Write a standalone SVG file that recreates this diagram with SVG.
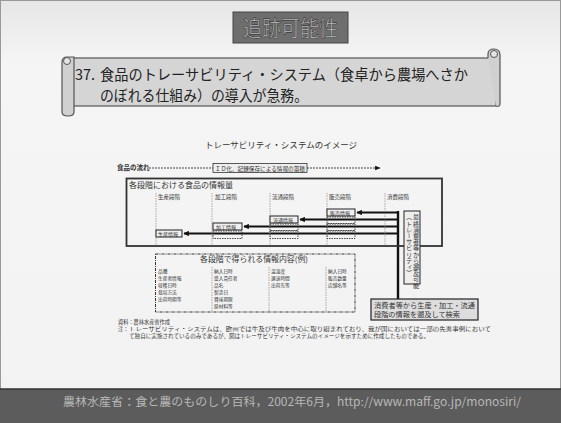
<svg xmlns="http://www.w3.org/2000/svg" width="561" height="423" viewBox="0 0 561 423">
<style>
.jp{font-family:"Noto Sans CJK JP","Noto Sans",sans-serif}
.lbl{font-family:"Noto Sans CJK JP",sans-serif;fill:#333}
.s5{font-size:5.5px}
.s4{font-size:4.7px}
.solid{fill:#f0f0f0;stroke:#222;stroke-width:1}
.dash{fill:none;stroke:#333;stroke-width:0.9;stroke-dasharray:1.5 1}
.vl{stroke:#888;stroke-width:0.7;stroke-dasharray:1.5 1}
.arr{stroke:#111;stroke-width:1.8;fill:none;marker-end:url(#ah)}
</style>
<defs>
<marker id="ah" viewBox="0 0 10 10" refX="9" refY="5" markerWidth="3" markerHeight="3" orient="auto"><path d="M0,0L10,5L0,10z" fill="#111"/></marker>
<marker id="ah2" viewBox="0 0 10 10" refX="9" refY="5" markerWidth="6" markerHeight="6" orient="auto"><path d="M0,1L10,5L0,9z" fill="#111"/></marker>
<linearGradient id="bg" x1="0" y1="0" x2="0" y2="1"><stop offset="0" stop-color="#e6e6e6"/><stop offset="0.15" stop-color="#f5f5f5"/><stop offset="1" stop-color="#f2f2f2"/></linearGradient>
</defs>
<rect x="0" y="0" width="561" height="423" fill="url(#bg)"/>
<rect x="0.5" y="0.5" width="560" height="422" fill="none" stroke="#999"/>
<g id="title">
<rect x="233" y="12" width="115" height="31" fill="#6e6e6e" stroke="#444"/>
<text x="290.5" y="36" text-anchor="middle" class="jp" font-size="22" fill="#c8c8c8" stroke="#333" stroke-width="0.6" textLength="95" lengthAdjust="spacingAndGlyphs">追跡可能性</text>
</g>
<g id="banner">
<rect x="72" y="58" width="424" height="48" fill="#d5d5d5" stroke="#555" stroke-width="1.2"/>
<path d="M62,62 Q62,57 67,57 L74,57 L74,112 Q74,116 68,116 Q62,116 62,112 Z" fill="#d0d0d0" stroke="#555" stroke-width="1.2"/>
<circle cx="67" cy="61" r="3.5" fill="#e4e4e4" stroke="#555"/>
<path d="M488,58 L488,54 Q488,49 494,49 Q500,49 500,55 L500,104 Q500,107 496,106" fill="#d0d0d0" stroke="#555" stroke-width="1.2"/>
<circle cx="494" cy="54" r="3.5" fill="#e4e4e4" stroke="#555"/>
<text x="75" y="80" class="jp" font-size="14.5" fill="#222">37.</text>
<text x="100" y="80" class="jp" font-size="14.5" fill="#222" textLength="368" lengthAdjust="spacingAndGlyphs">食品のトレーサビリティ・システム（食卓から農場へさか</text>
<text x="100" y="101" class="jp" font-size="14.5" fill="#222" textLength="208" lengthAdjust="spacingAndGlyphs">のぼれる仕組み）の導入が急務。</text>
</g>
<text x="281" y="148" text-anchor="middle" class="lbl" font-size="8.5" textLength="152" lengthAdjust="spacingAndGlyphs">トレーサビリティ・システムのイメージ</text>
<g id="flow">
<text x="117" y="170" class="lbl" font-size="6.5" font-weight="bold" fill="#111">食品の流れ</text>
</g>
<g id="connectors">
<line x1="149" y1="168" x2="213" y2="168" stroke="#333" stroke-width="0.9" stroke-dasharray="2 1"/>
<line x1="307" y1="168" x2="380" y2="168" stroke="#333" stroke-width="0.9" stroke-dasharray="2 1" marker-end="url(#ah2)"/>
<line x1="398" y1="211" x2="398" y2="299" stroke="#111" stroke-width="2.4"/>
<line x1="398" y1="212.5" x2="357" y2="212.5" class="arr"/>
<line x1="398" y1="219.5" x2="300" y2="219.5" class="arr"/>
<line x1="398" y1="226.5" x2="244" y2="226.5" class="arr"/>
<line x1="398" y1="233.5" x2="184" y2="233.5" class="arr"/>
</g>
<g id="idbox">
<rect x="213" y="163.5" width="94" height="9" fill="#eee" stroke="#333" stroke-width="0.8"/>
<text x="215" y="170.5" class="lbl" font-size="6" textLength="90" lengthAdjust="spacingAndGlyphs">ＩＤ化、記録保存による情報の蓄積</text>
</g>
<g id="infobox">
<rect x="126.5" y="178.5" width="315.5" height="67.5" fill="none" stroke="#333" stroke-width="1.8"/>
<text x="129" y="188" class="lbl" font-size="7.5" textLength="104" lengthAdjust="spacingAndGlyphs">各段階における食品の情報量</text>
<text x="158" y="199" class="lbl s5">生産段階</text>
<text x="215" y="199" class="lbl s5">加工段階</text>
<text x="272" y="199" class="lbl s5">流通段階</text>
<text x="329" y="199" class="lbl s5">販売段階</text>
<text x="387" y="199" class="lbl s5">消費段階</text>
<line x1="156" y1="193" x2="156" y2="245" class="vl"/>
<line x1="212" y1="193" x2="212" y2="245" class="vl"/>
<line x1="270" y1="193" x2="270" y2="245" class="vl"/>
<line x1="327" y1="193" x2="327" y2="245" class="vl"/>
<line x1="385" y1="193" x2="385" y2="245" class="vl"/>
</g>
<g id="prod">
<rect x="156" y="230" width="26" height="7" class="solid"/>
<text x="158" y="235.5" class="lbl" font-size="5">生産情報</text>
</g>
<g id="proc">
<rect x="213" y="223" width="29" height="7" class="solid"/>
<text x="216" y="228.5" class="lbl" font-size="5">加工情報</text>
<rect x="213" y="231" width="29" height="7.5" class="dash"/>
</g>
<g id="dist">
<rect x="270" y="216" width="28" height="7" class="solid"/>
<text x="273" y="221.5" class="lbl" font-size="5">流通情報</text>
<rect x="270" y="224" width="28" height="6.5" class="dash"/>
<rect x="270" y="231" width="28" height="7.5" class="dash"/>
</g>
<g id="sale">
<rect x="327" y="209" width="28" height="7" class="solid"/>
<text x="330" y="214.5" class="lbl" font-size="5">販売情報</text>
<rect x="327" y="217" width="28" height="6.5" class="dash"/>
<rect x="327" y="224" width="28" height="6.5" class="dash"/>
<rect x="327" y="231" width="28" height="7.5" class="dash"/>
</g>
<g id="vertbox">
<rect x="404" y="211" width="16" height="73" fill="#eee" stroke="#222" stroke-width="1"/>
<text x="416" y="214" class="lbl" font-size="6.2" style="writing-mode:vertical-rl">最終消費者等から遡及可能</text>
<text x="409" y="214" class="lbl" font-size="6.2" style="writing-mode:vertical-rl">（トレーサビリティ）</text>
</g>
<g id="searchbox">
<rect x="371" y="299" width="107" height="21" fill="#ddd" stroke="#222" stroke-width="1.2"/>
<text x="374" y="307.5" class="lbl" font-size="7.2" fill="#222" textLength="101" lengthAdjust="spacingAndGlyphs">消費者等から生産・加工・流通</text>
<text x="374" y="317" class="lbl" font-size="7.2" fill="#222" textLength="86" lengthAdjust="spacingAndGlyphs">段階の情報を遡及して検索</text>
</g>
<g id="contents">
<rect x="155.5" y="254" width="199.5" height="58" fill="none" stroke="#333" stroke-width="1" stroke-dasharray="3 1 1 1"/>
<text x="200" y="262" class="lbl" font-size="7.5" fill="#555" textLength="108" lengthAdjust="spacingAndGlyphs">各段階で得られる情報内容(例)</text>
<line x1="212" y1="267" x2="212" y2="312" class="vl"/>
<line x1="269" y1="267" x2="269" y2="312" class="vl"/>
<line x1="326" y1="267" x2="326" y2="312" class="vl"/>
<g class="lbl s4">
<text x="158" y="273">品種</text>
<text x="158" y="280">生産者情報</text>
<text x="158" y="287">収穫日時</text>
<text x="158" y="294">栽培方法</text>
<text x="158" y="301">出荷時期等</text>
<text x="214" y="273">納入日時</text>
<text x="214" y="280">受入責任者</text>
<text x="214" y="287">品名</text>
<text x="214" y="294">製造日</text>
<text x="214" y="301">賞味期限</text>
<text x="214" y="308">原材料等</text>
<text x="271" y="273">温湿度</text>
<text x="271" y="280">運送時間</text>
<text x="271" y="287">出荷先等</text>
<text x="328" y="273">納入日時</text>
<text x="328" y="280">販売数量</text>
<text x="328" y="287">店舗名等</text>
</g>
</g>
<g id="notes" class="lbl" font-size="5.2">
<text x="118" y="324">資料：農林水産省作成</text>
<text x="118" y="331">注：</text>
<text x="129" y="331" textLength="362" lengthAdjust="spacingAndGlyphs">トレーサビリティ・システムは、欧州では牛及び牛肉を中心に取り組まれており、我が国においては一部の先進事例において</text>
<text x="129" y="338" textLength="300" lengthAdjust="spacingAndGlyphs">て独自に実施されているのみであるが、図はトレーサビリティ・システムのイメージを示すために作成したものである。</text>
</g>
<g id="footer">
<rect x="0" y="389" width="561" height="34" fill="#5c5c5c"/>
<line x1="0" y1="389" x2="561" y2="389" stroke="#333" stroke-width="1.5"/>
<text x="63" y="406" class="jp" font-size="11.5" fill="#b8b8b8" textLength="458" lengthAdjust="spacingAndGlyphs">農林水産省：食と農のものしり百科，2002年6月，http://www.maff.go.jp/monosiri/</text>
</g>
</svg>
